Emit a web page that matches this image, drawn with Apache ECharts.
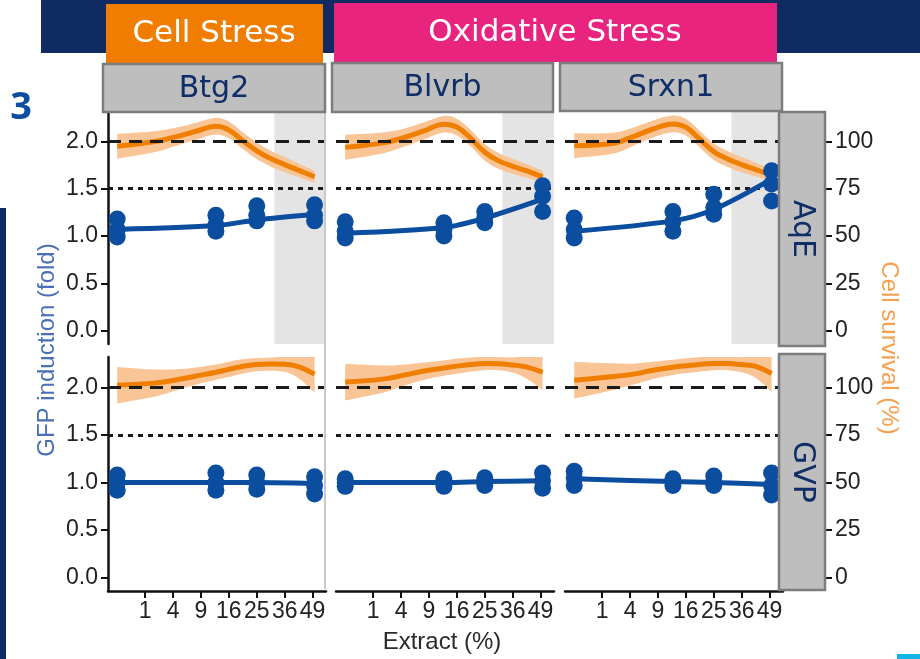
<!DOCTYPE html>
<html>
<head>
<meta charset="utf-8">
<script src="https://cdn.jsdelivr.net/npm/echarts@6/dist/echarts.min.js"></script>
<style>
  html, body { margin: 0; padding: 0; background: #fff; }
  #chart { width: 920px; height: 659px; }
</style>
</head>
<body>
<div id="chart"></div>
<script>
// facets
const genes = ['Btg2', 'Blvrb', 'Srxn1'];
const extracts = ['AqE', 'GVP'];

// extract concentration (%) of the measured points, x axis is sqrt scaled
const doses = [0, 12.5, 25, 50];
const tickDoses = [1, 4, 9, 16, 25, 36, 49];
const gfpTicks = [0, 0.5, 1, 1.5, 2];
const survTicks = [0, 25, 50, 75, 100];
const refLines = [2, 1.5];          // fold induction thresholds
const shadeFrom = 31.7;             // cytotoxic range (AqE only)
const fitDoses = [0, 2, 4.5, 8, 12.5, 16, 20, 25, 30, 36, 42, 50];

// GFP induction replicates, one row per dose
const btg2AqEGfp = [[0.99, 1.07, 1.18], [1.05, 1.12, 1.22], [1.16, 1.22, 1.32], [1.16, 1.22, 1.33]];
const blvrbAqEGfp = [[0.98, 1.05, 1.15], [1.0, 1.07, 1.14], [1.14, 1.19, 1.26], [1.26, 1.42, 1.53]];
const srxn1AqEGfp = [[0.98, 1.07, 1.19], [1.05, 1.15, 1.26], [1.23, 1.3, 1.44], [1.37, 1.55, 1.69]];
const btg2GVPGfp = [[0.92, 1.0, 1.08], [0.92, 1.0, 1.1], [0.93, 1.0, 1.08], [0.88, 0.97, 1.06]];
const blvrbGVPGfp = [[0.96, 1.0, 1.04], [0.96, 1.0, 1.04], [0.97, 1.01, 1.05], [0.94, 1.02, 1.1]];
const srxn1GVPGfp = [[0.97, 1.05, 1.12], [0.97, 1.01, 1.04], [0.97, 1.01, 1.07], [0.87, 0.97, 1.1]];

// fitted GFP induction at each dose
const btg2AqEFit = [1.07, 1.11, 1.17, 1.23];
const blvrbAqEFit = [1.03, 1.09, 1.19, 1.39];
const srxn1AqEFit = [1.05, 1.16, 1.28, 1.6];
const btg2GVPFit = [1.0, 1.0, 1.0, 0.99];
const blvrbGVPFit = [1.0, 1.0, 1.01, 1.02];
const srxn1GVPFit = [1.04, 1.01, 1.0, 0.98];

// fitted cell survival (%) at fitDoses and its confidence half width
const btg2AqESurv = [97.4, 100, 102.5, 105.3, 108, 106, 100.6, 95, 91, 87.7, 84.8, 81.3];
const blvrbAqESurv = [96.8, 99.3, 102, 105.5, 109, 107.5, 102, 94.2, 89.8, 86.8, 84.5, 81.2];
const srxn1AqESurv = [97.7, 99, 102.5, 106.5, 109.2, 107.5, 101.5, 94.5, 90.8, 87.7, 85.2, 82.1];
const btg2GVPSurv = [101.2, 102.4, 104, 106, 108, 109.5, 111, 112, 112.3, 112.2, 111, 107];
const blvrbGVPSurv = [102.8, 104.5, 106.5, 108.6, 110.2, 111.2, 112, 112.6, 112.5, 111.8, 110.8, 108];
const srxn1GVPSurv = [103.8, 105.7, 107, 109, 110.6, 111.4, 112.1, 112.6, 112.6, 112, 111.2, 107.3];
const aqeCi = [6.6, 5.5, 4.8, 4.5, 4.4, 4.4, 4.4, 4.4, 4.2, 4, 3.6, 3.2];
const gvpCi = [9.6, 7, 5.5, 4.5, 4, 4, 3.8, 3.5, 3.5, 4, 6, 9.6];

const panels = [
    {gfp: btg2AqEGfp, fit: btg2AqEFit, surv: btg2AqESurv, ci: aqeCi},
    {gfp: blvrbAqEGfp, fit: blvrbAqEFit, surv: blvrbAqESurv, ci: aqeCi},
    {gfp: srxn1AqEGfp, fit: srxn1AqEFit, surv: srxn1AqESurv, ci: aqeCi},
    {gfp: btg2GVPGfp, fit: btg2GVPFit, surv: btg2GVPSurv, ci: gvpCi},
    {gfp: blvrbGVPGfp, fit: blvrbGVPFit, surv: blvrbGVPSurv, ci: gvpCi},
    {gfp: srxn1GVPGfp, fit: srxn1GVPFit, surv: srxn1GVPSurv, ci: gvpCi}
];

// layout
const colLeft = [108, 336, 565];
const rowTop = [111, 357];
const rowH = [233, 234];
const panelW = 218;
const xMin = -0.33, xMax = 7.48;
const gfpMin = -0.14, gfpMax = 2.32;
const survScale = 50;   // 100 % survival sits on 2.0 fold

const blue = '#0b4d9f';
const orange = '#f07f00';
const band = '#f9c596';
const navy = '#0f2b61';
const tickFont = {fontSize: 23, fontFamily: 'Liberation Sans', color: '#222'};
const axisBlack = {color: '#111', width: 2.5};

// confidence ribbon: one smoothed polygon built from all rows of the series
function ribbonItem(params, api) {
    if (params.dataIndexInside !== 0) return null;
    const n = params.dataInsideLength;
    const upper = [], lower = [];
    for (let k = 0; k < n; k++) {
        upper.push(api.coord([api.value(0, k), api.value(2, k)]));
        lower.unshift(api.coord([api.value(0, k), api.value(1, k)]));
    }
    // repeat the corner points so the ends of the band stay square
    const pts = [upper[0]].concat(upper, [upper[n - 1], lower[0]], lower, [lower[n - 1]]);
    const cs = params.coordSys;
    return {
        type: 'polygon',
        shape: {points: pts, smooth: 0.35},
        style: {fill: band},
        clipPath: {type: 'rect', shape: {x: cs.x, y: cs.y, width: cs.width, height: cs.height}}
    };
}

const option = {animation: false, grid: [], xAxis: [], yAxis: [], series: [], graphic: []};

panels.forEach(function (p, i) {
    const r = Math.floor(i / 3), c = i % 3;
    option.grid.push({left: colLeft[c], top: rowTop[r], width: panelW, height: rowH[r]});
    option.xAxis.push({
        type: 'value', gridIndex: i, min: xMin, max: xMax,
        axisLine: {show: r === 1, onZero: false, lineStyle: axisBlack},
        axisTick: {show: r === 1, customValues: tickDoses.map(Math.sqrt), length: 7, lineStyle: {color: '#111', width: 2}},
        axisLabel: Object.assign({show: r === 1, customValues: tickDoses.map(Math.sqrt), margin: 9,
            formatter: v => String(Math.round(v * v))}, tickFont),
        splitLine: {show: false}
    });
    option.yAxis.push({
        type: 'value', gridIndex: i, min: gfpMin, max: gfpMax, position: 'left', show: c === 0,
        axisLine: {show: true, onZero: false, lineStyle: axisBlack},
        axisTick: {customValues: gfpTicks, length: 7, lineStyle: {color: '#111', width: 2}},
        axisLabel: Object.assign({customValues: gfpTicks, margin: 10, formatter: v => v.toFixed(1)}, tickFont),
        splitLine: {show: false}
    });
    option.yAxis.push({
        type: 'value', gridIndex: i, min: gfpMin * survScale, max: gfpMax * survScale,
        position: 'right', offset: 42, show: c === 2,
        axisLine: {show: false, onZero: false},
        axisTick: {show: true, customValues: survTicks, length: 7, lineStyle: {color: '#111', width: 2}},
        axisLabel: Object.assign({customValues: survTicks, margin: 10}, tickFont),
        splitLine: {show: false}
    });
    const yl = 2 * i, yr = 2 * i + 1;
    // shaded cytotoxic range
    if (r === 0) {
        option.series.push({
            type: 'line', xAxisIndex: i, yAxisIndex: yl, data: [], z: 1, silent: true,
            markArea: {silent: true, itemStyle: {color: '#e4e4e4'},
                data: [[{xAxis: Math.sqrt(shadeFrom)}, {xAxis: xMax}]]}
        });
    }
    // survival ribbon and fit
    option.series.push({
        type: 'custom', xAxisIndex: i, yAxisIndex: yr, z: 2, silent: true,
        renderItem: ribbonItem,
        data: fitDoses.map((d, k) => [Math.sqrt(d), p.surv[k] - p.ci[k], p.surv[k] + p.ci[k]])
    });
    option.series.push({
        type: 'line', xAxisIndex: i, yAxisIndex: yr, smooth: 0.4, symbol: 'none', z: 3,
        lineStyle: {color: orange, width: 5},
        data: fitDoses.map((d, k) => [Math.sqrt(d), p.surv[k]])
    });
    // reference lines
    option.series.push({
        type: 'line', xAxisIndex: i, yAxisIndex: yl, data: [], z: 4, silent: true,
        markLine: {silent: true, symbol: 'none', label: {show: false}, animation: false,
            data: [
                {yAxis: refLines[0], lineStyle: {type: [13, 8], width: 3, color: '#1a1a1a'}},
                {yAxis: refLines[1], lineStyle: {type: [5, 5], width: 3, color: '#1a1a1a'}}
            ]}
    });
    // GFP fit and replicates
    option.series.push({
        type: 'line', xAxisIndex: i, yAxisIndex: yl, smooth: 0.3, symbol: 'none', z: 5,
        lineStyle: {color: blue, width: 5},
        data: doses.map((d, k) => [Math.sqrt(d), p.fit[k]])
    });
    const pts = [];
    doses.forEach((d, k) => p.gfp[k].forEach(v => pts.push([Math.sqrt(d), v])));
    option.series.push({
        type: 'scatter', xAxisIndex: i, yAxisIndex: yl, symbolSize: 17, z: 6,
        itemStyle: {color: blue, opacity: 1}, data: pts
    });
});

// slide decorations, strips and titles
const g = option.graphic;
const headFont = '31px "DejaVu Sans"';
const stripFont = '30px "DejaVu Sans"';
g.push({type: 'rect', shape: {x: 41, y: 0, width: 879, height: 53}, style: {fill: navy}, z: 90, silent: true});
g.push({type: 'rect', shape: {x: 0, y: 208, width: 6, height: 451}, style: {fill: navy}, z: 90, silent: true});
g.push({type: 'rect', shape: {x: 897, y: 654, width: 23, height: 5}, style: {fill: '#12b3e6'}, z: 90, silent: true});
g.push({type: 'text', x: 21, y: 108, style: {text: '3', font: 'bold 38px "Noto Sans"', fill: '#0d4ea0',
    textAlign: 'center', textVerticalAlign: 'middle'}, z: 95});
g.push({type: 'rect', shape: {x: 106, y: 4, width: 217, height: 59}, style: {fill: '#f07d00'}, z: 95});
g.push({type: 'text', x: 214, y: 34, style: {text: 'Cell Stress', font: headFont, fill: '#fff',
    textAlign: 'center', textVerticalAlign: 'middle'}, z: 96});
g.push({type: 'rect', shape: {x: 334, y: 3, width: 443, height: 59}, style: {fill: '#e8247f'}, z: 95});
g.push({type: 'text', x: 555, y: 33, style: {text: 'Oxidative Stress', font: headFont, fill: '#fff',
    textAlign: 'center', textVerticalAlign: 'middle'}, z: 96});

// column 1 panel border
g.push({type: 'line', shape: {x1: 325, y1: 112, x2: 325, y2: 589}, style: {stroke: '#c8c8c8', lineWidth: 2}, z: 90});

const topStrips = [[103, 64, 222, 48], [332, 63, 221, 49], [560, 63, 222, 48]];
genes.forEach(function (name, c) {
    const s = topStrips[c];
    g.push({type: 'rect', shape: {x: s[0], y: s[1], width: s[2], height: s[3]},
        style: {fill: '#bebebe', stroke: '#7d7d7d', lineWidth: 2.5}, z: 100});
    g.push({type: 'text', x: s[0] + s[2] / 2, y: s[1] + s[3] / 2 + 1, style: {text: name, font: stripFont,
        fill: '#0f2d67', textAlign: 'center', textVerticalAlign: 'middle'}, z: 101});
});
const sideStrips = [[779, 112, 46, 234], [779, 354, 46, 236]];
extracts.forEach(function (name, r) {
    const s = sideStrips[r];
    g.push({type: 'rect', shape: {x: s[0], y: s[1], width: s[2], height: s[3]},
        style: {fill: '#bebebe', stroke: '#7d7d7d', lineWidth: 2.5}, z: 100});
    g.push({type: 'text', x: s[0] + s[2] / 2, y: s[1] + s[3] / 2, rotation: -Math.PI / 2,
        style: {text: name, font: stripFont, fill: '#0f2d67', textAlign: 'center', textVerticalAlign: 'middle'}, z: 101});
});

// axis titles
g.push({type: 'text', x: 47, y: 350, rotation: Math.PI / 2, style: {text: 'GFP induction (fold)',
    font: '24px "Liberation Sans"', fill: '#4a6fb5', textAlign: 'center', textVerticalAlign: 'middle'}, z: 96});
g.push({type: 'text', x: 889, y: 348, rotation: -Math.PI / 2, style: {text: 'Cell survival (%)',
    font: '24px "Liberation Sans"', fill: '#f5a04f', textAlign: 'center', textVerticalAlign: 'middle'}, z: 96});
g.push({type: 'text', x: 442, y: 642, style: {text: 'Extract (%)',
    font: '24px "Liberation Sans"', fill: '#2a2a2a', textAlign: 'center', textVerticalAlign: 'middle'}, z: 96});

const myChart = echarts.init(document.getElementById('chart'));
myChart.setOption(option);
</script>
</body>
</html>
